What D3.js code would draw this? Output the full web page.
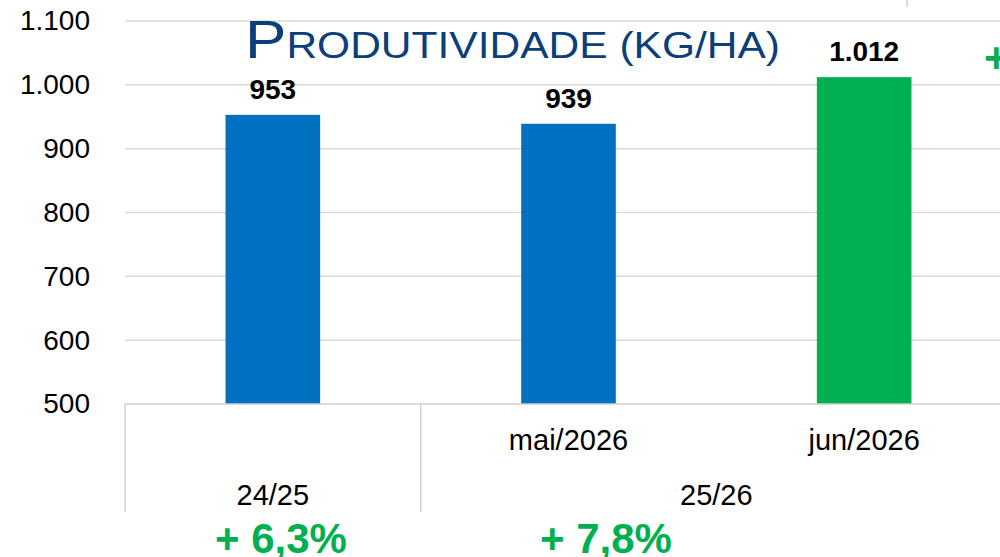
<!DOCTYPE html>
<html>
<head>
<meta charset="utf-8">
<script src="https://cdn.jsdelivr.net/npm/d3@7"></script>
<style>
  body { margin: 0; background: #fff; }
  svg { display: block; font-family: "Liberation Sans", Arial, sans-serif; }
</style>
</head>
<body>
<div id="chart"></div>
<script>
const W = 1000, H = 557;

// data
const categories = ["c1", "c2", "c3"];
const monthLabels = ["", "mai/2026", "jun/2026"];
const values = [953, 939, 1012];
const valueLabels = ["953", "939", "1.012"];
const barColors = ["#0070C0", "#0070C0", "#00B050"];
const groups = [
  { name: "24/25", from: 0, to: 0 },
  { name: "25/26", from: 1, to: 2 }
];
const yTicks = [500, 600, 700, 800, 900, 1000, 1100];
const changes = [
  { text: "+ 6,3%", x: 281 },
  { text: "+ 7,8%", x: 606 }
];

const svg = d3.select("#chart").append("svg")
  .attr("width", W).attr("height", H);

const y = d3.scaleLinear().domain([500, 1100]).range([404, 21]);
const x = d3.scaleBand().domain(categories).range([125, 1012]).padding(0);
const barW = x.bandwidth() * 0.32;
const fmt = d3.formatLocale({ decimal: ",", thousands: ".", grouping: [3], currency: ["", ""] }).format(",d");

// gridlines
svg.append("g").selectAll("line")
  .data(yTicks.slice(1))
  .enter().append("line")
    .attr("x1", 125).attr("x2", W)
    .attr("y1", d => y(d)).attr("y2", d => y(d))
    .attr("stroke", "#d9d9d9").attr("stroke-width", 1.5);

// y axis labels
const yAxis = d3.axisLeft(y).tickValues(yTicks).tickFormat(fmt).tickSize(0).tickPadding(0);
svg.append("g")
    .attr("transform", "translate(90,0)")
    .call(yAxis)
    .call(g => g.select(".domain").remove())
    .selectAll("text")
      .attr("font-size", 28)
      .attr("font-family", "Liberation Sans, Arial, sans-serif")
      .attr("fill", "#000");

// bars
svg.append("g").selectAll("rect")
  .data(values)
  .enter().append("rect")
    .attr("x", (d, i) => x(categories[i]) + (x.bandwidth() - barW) / 2)
    .attr("y", d => y(d))
    .attr("width", barW)
    .attr("height", d => y(500) - y(d))
    .attr("fill", (d, i) => barColors[i]);

// value labels
svg.append("g").selectAll("text")
  .data(values)
  .enter().append("text")
    .attr("x", (d, i) => x(categories[i]) + x.bandwidth() / 2)
    .attr("y", d => y(d) - 16)
    .attr("text-anchor", "middle")
    .attr("font-size", 28).attr("font-weight", "bold")
    .text((d, i) => valueLabels[i]);

// category axis baseline
svg.append("line")
  .attr("x1", 125).attr("x2", W)
  .attr("y1", y(500)).attr("y2", y(500))
  .attr("stroke", "#cfcfcf").attr("stroke-width", 1.5);

// group dividers
const dividers = [125].concat(groups.map(g => x(categories[g.to]) + x.bandwidth()));
svg.append("g").selectAll("line")
  .data(dividers)
  .enter().append("line")
    .attr("x1", d => d).attr("x2", d => d)
    .attr("y1", y(500)).attr("y2", 512)
    .attr("stroke", "#cfcfcf").attr("stroke-width", 1.5);

// month labels
svg.append("g").selectAll("text")
  .data(monthLabels)
  .enter().append("text")
    .attr("x", (d, i) => x(categories[i]) + x.bandwidth() / 2)
    .attr("y", 450)
    .attr("text-anchor", "middle")
    .attr("font-size", 29)
    .text(d => d);

// season labels
svg.append("g").selectAll("text")
  .data(groups)
  .enter().append("text")
    .attr("x", g => (x(categories[g.from]) + x(categories[g.to]) + x.bandwidth()) / 2)
    .attr("y", 505)
    .attr("text-anchor", "middle")
    .attr("font-size", 29)
    .text(g => g.name);

// percentage changes
svg.append("g").selectAll("text")
  .data(changes)
  .enter().append("text")
    .attr("x", d => d.x)
    .attr("y", 553)
    .attr("text-anchor", "middle")
    .attr("font-size", 42).attr("font-weight", "bold")
    .attr("fill", "#00B050")
    .text(d => d.text);

// cut-off plus sign at the right edge
svg.append("text")
  .attr("x", 984).attr("y", 72)
  .attr("font-size", 42).attr("font-weight", "bold")
  .attr("fill", "#00B050")
  .text("+");

// small mark at top
svg.append("line")
  .attr("x1", 907).attr("x2", 907).attr("y1", 0).attr("y2", 7)
  .attr("stroke", "#cfcfcf").attr("stroke-width", 1.5);

// title in small caps
const title = svg.append("text")
  .attr("x", 245).attr("y", 58)
  .attr("textLength", 535)
  .attr("lengthAdjust", "spacingAndGlyphs")
  .attr("fill", "#0B3F7A");
title.append("tspan").attr("font-size", 54).text("P");
title.append("tspan").attr("font-size", 37).text("RODUTIVIDADE (KG/HA)");
</script>
</body>
</html>
